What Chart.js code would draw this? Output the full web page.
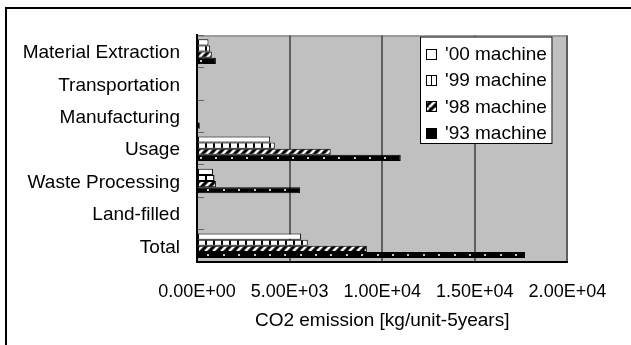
<!DOCTYPE html>
<html>
<head>
<meta charset="utf-8">
<script src="https://cdn.jsdelivr.net/npm/chart.js@4"></script>
<style>
  html, body { margin: 0; padding: 0; background: #fff; }
  #wrap { position: relative; width: 631px; height: 345px; }
</style>
</head>
<body>
<div id="wrap"><canvas id="c" width="631" height="345"></canvas></div>
<script>
// CO2 emission per life-cycle stage, kg per unit over 5 years
const categories = ['Material Extraction', 'Transportation', 'Manufacturing', 'Usage', 'Waste Processing', 'Land-filled', 'Total'];
const seriesNames = ["'00 machine", "'99 machine", "'98 machine", "'93 machine"];
const machine00 = [620, 0, 0, 3950, 860, 0, 5620];
const machine99 = [710, 0, 0, 4200, 945, 0, 5980];
const machine98 = [800, 0, 0, 7220, 1020, 0, 9170];
const machine93 = [1020, 0, 150, 11000, 5570, 0, 17710];
const xTickLabels = ['0.00E+00', '5.00E+03', '1.00E+04', '1.50E+04', '2.00E+04'];
const xMin = 0, xMax = 20000, xStep = 5000;
const xTitle = 'CO2 emission [kg/unit-5years]';

const FONT_FAMILY = "'Liberation Sans', Arial, sans-serif";
Chart.defaults.font.family = FONT_FAMILY;
Chart.defaults.font.size = 18;
Chart.defaults.color = '#000';

const canvas = document.getElementById('c');
const ctx = canvas.getContext('2d');

function makeTile(w, h, paint) {
  const t = document.createElement('canvas');
  t.width = w; t.height = h;
  paint(t.getContext('2d'));
  return t;
}
// white squares separated by vertical rules
const columnTile = makeTile(8, 8, g => {
  g.fillStyle = '#fff'; g.fillRect(0, 0, 8, 8);
  g.fillStyle = '#000'; g.fillRect(0, 0, 2, 8);
});
// black with white forward-slash hatching
const hatchTile = makeTile(8, 8, g => {
  g.fillStyle = '#000'; g.fillRect(0, 0, 8, 8);
  g.strokeStyle = '#fff'; g.lineWidth = 2.6;
  for (const o of [-8, 0, 8]) {
    g.beginPath(); g.moveTo(o, 8); g.lineTo(o + 8, 0); g.stroke();
  }
});
const columnPattern = ctx.createPattern(columnTile, 'repeat');
const hatchPattern = ctx.createPattern(hatchTile, 'repeat');

const fills = ['#ffffff', columnPattern, hatchPattern, '#000000'];
const seriesValues = [machine00, machine99, machine98, machine93];

const framePlugin = {
  id: 'frame',
  beforeDraw(chart) {
    const c = chart.ctx, a = chart.chartArea;
    c.save();
    // outer frame
    c.fillStyle = '#000';
    c.fillRect(5, 7, 2, chart.height);
    c.fillRect(5, 7, chart.width, 2);
    // plot background
    c.fillStyle = '#c0c0c0';
    c.fillRect(a.left, a.top, a.right - a.left, a.bottom - a.top);
    c.strokeStyle = '#8a8a8a';
    c.lineWidth = 1.5;
    c.beginPath();
    c.moveTo(a.left, a.top + 0.5); c.lineTo(a.right, a.top + 0.5);
    c.moveTo(a.right - 0.5, a.top); c.lineTo(a.right - 0.5, a.bottom);
    c.stroke();
    c.restore();
  },
  beforeDatasetsDraw(chart) {
    const m = new DOMMatrix([1, 0, 0, 1, chart.chartArea.left, chart.chartArea.top]);
    columnPattern.setTransform(m);
    hatchPattern.setTransform(m);
  }
};

// staggered dot texture on the solid '93 bars
const dotPlugin = {
  id: 'dots',
  afterDatasetsDraw(chart) {
    const c = chart.ctx, a = chart.chartArea;
    const step = 7.7;
    c.save();
    c.fillStyle = '#c8c8c8';
    chart.getDatasetMeta(3).data.forEach(bar => {
      const { x, y, base } = bar.getProps(['x', 'y', 'base'], true);
      const row = Math.round((y - a.top - 27.3) / step);
      let px = a.left + (row % 2 === 0 ? 3.7 : 11.3);
      for (; px < x - 3; px += 2 * step) {
        if (px < base + 2) continue;
        c.fillRect(Math.round(px) - 1, Math.round(y) - 1, 2, 2);
      }
    });
    c.restore();
  }
};

const legendPlugin = {
  id: 'boxLegend',
  afterDraw(chart) {
    const c = chart.ctx;
    const box = { x: 420, y: 36.5, w: 132.5, h: 107.5 };
    c.save();
    c.fillStyle = '#fff';
    c.fillRect(box.x, box.y, box.w, box.h);
    c.strokeStyle = '#000';
    c.lineWidth = 1;
    c.strokeRect(box.x + 0.5, box.y + 0.5, box.w - 1, box.h - 1);
    c.font = '19px ' + FONT_FAMILY;
    c.textBaseline = 'middle';
    c.textAlign = 'left';
    chart.data.datasets.forEach((ds, i) => {
      const cy = box.y + 17.5 + i * 26.2;
      const mx = 426.5, my = Math.round(cy - 5) + 0.5, ms = 10;
      if (i === 2) {
        c.fillStyle = hatchPattern;
        c.fillRect(mx, my, ms, ms);
      } else {
        c.fillStyle = i === 3 ? '#000' : '#fff';
        c.fillRect(mx, my, ms, ms);
      }
      c.strokeStyle = '#000';
      c.lineWidth = 1;
      c.strokeRect(mx, my, ms, ms);
      if (i === 1) {
        c.beginPath();
        c.moveTo(mx + ms / 2, my); c.lineTo(mx + ms / 2, my + ms);
        c.stroke();
      }
      c.fillStyle = '#000';
      c.fillText(ds.label, 445, cy + 0.9);
    });
    c.restore();
  }
};

new Chart(canvas, {
  type: 'bar',
  data: {
    labels: categories,
    datasets: seriesNames.map((name, i) => ({
      label: name,
      data: seriesValues[i],
      backgroundColor: fills[i],
      borderColor: '#000',
      borderWidth: 1,
      borderSkipped: false,
      categoryPercentage: 0.76,
      barPercentage: 1.0
    }))
  },
  options: {
    indexAxis: 'y',
    responsive: false,
    animation: false,
    devicePixelRatio: 1,
    layout: { padding: { left: 0, top: 22.5, right: 63.6, bottom: 8.7 } },
    plugins: { legend: { display: false }, tooltip: { enabled: false } },
    scales: {
      x: {
        type: 'linear',
        position: 'bottom',
        min: xMin, max: xMax,
        afterFit(scale) { scale.height = 74.3; },
        ticks: {
          stepSize: xStep,
          padding: 19,
          maxRotation: 0,
          autoSkip: false,
          callback: (v, i) => xTickLabels[i]
        },
        grid: {
          drawTicks: false,
          lineWidth: 2,
          color: c => (c.index === 0 ? 'rgba(0,0,0,0)' : '#5e5e5e')
        },
        border: { display: true, color: '#000', width: 2 },
        title: { display: true, text: xTitle, font: { size: 19 }, padding: { top: 4, bottom: 4 } }
      },
      y: {
        type: 'category',
        position: 'left',
        afterFit(scale) { scale.width = 197; },
        ticks: { padding: 24, autoSkip: false, labelOffset: 1.5, font: { size: 19 } },
        grid: {
          offset: true,
          drawOnChartArea: false,
          drawTicks: true,
          tickLength: -7,
          color: '#666',
          lineWidth: 1
        },
        border: { display: true, color: '#000', width: 2 }
      }
    }
  },
  plugins: [framePlugin, dotPlugin, legendPlugin]
});
</script>
</body>
</html>
